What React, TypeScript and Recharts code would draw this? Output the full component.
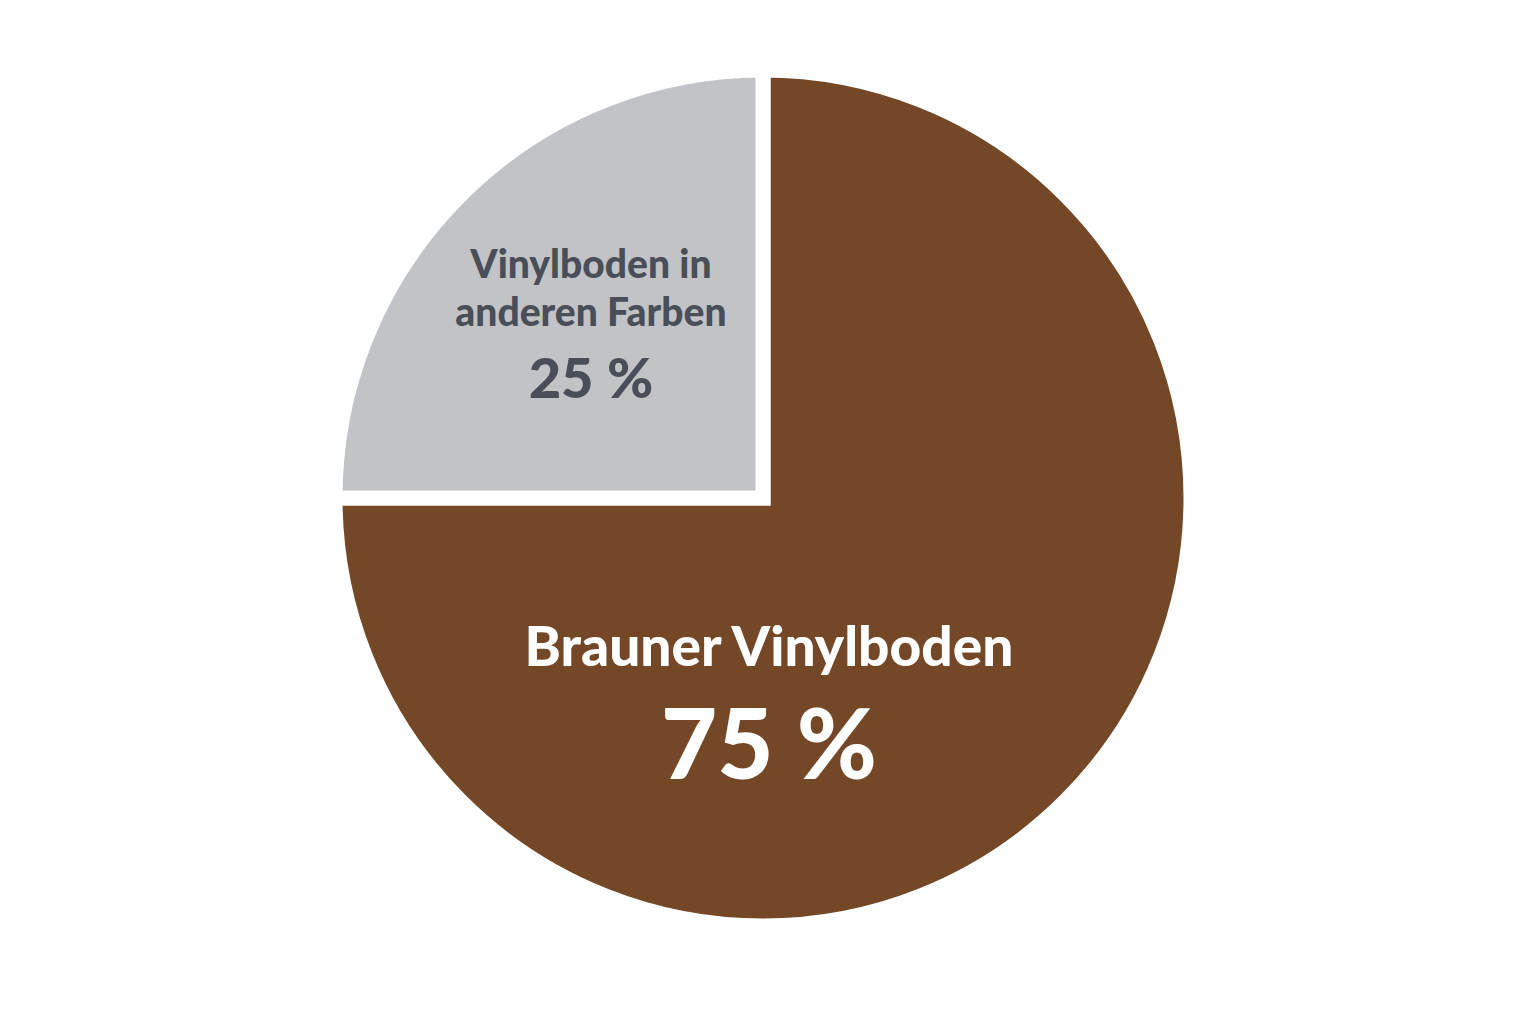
import React from "react";
import { PieChart, Pie, Cell } from "recharts";

const categories = ["Brauner Vinylboden", "Vinylboden in anderen Farben"];
const values = [75, 25];
const labelLines = [["Brauner Vinylboden"], ["Vinylboden in", "anderen Farben"]];
const percentLabels = ["75 %", "25 %"];
const colors = ["#744827", "#c1c3c6"];
const textColors = ["#ffffff", "#4a4e58"];

const data = categories.map((name, i) => ({ name, value: values[i] }));

const FONT = "Lato, 'Open Sans', sans-serif";

const renderLabel = (props: any) => {
  const { cx, cy, outerRadius, index } = props;
  const R = outerRadius;
  if (index === 0) {
    const x = cx + R * 0.014;
    const y = cy + R * 0.392;
    return (
      <g>
        <text x={x} y={y} textAnchor="middle" fill={textColors[0]} fontFamily={FONT} fontWeight={900} fontSize={55}>
          {labelLines[0][0]}
        </text>
        <text x={x} y={y + 113} textAnchor="middle" fill={textColors[0]} fontFamily={FONT} fontWeight={900} fontSize={97}>
          {percentLabels[0]}
        </text>
      </g>
    );
  }
  const x = cx - R * 0.402;
  const y = cy - R * 0.402;
  return (
    <g>
      <text x={x} y={y - 48} textAnchor="middle" fill={textColors[1]} fontFamily={FONT} fontWeight={900} fontSize={39}>
        {labelLines[1][0]}
      </text>
      <text x={x} y={y} textAnchor="middle" fill={textColors[1]} fontFamily={FONT} fontWeight={900} fontSize={39}>
        {labelLines[1][1]}
      </text>
      <text x={x} y={y + 72} textAnchor="middle" fill={textColors[1]} fontFamily={FONT} fontWeight={900} fontSize={56}>
        {percentLabels[1]}
      </text>
    </g>
  );
};

export default function App() {
  return (
    <div style={{ width: 1520, height: 1000, background: "#ffffff" }}>
      <PieChart width={1520} height={1000}>
        <Pie
          data={data}
          dataKey="value"
          nameKey="name"
          cx={750}
          cy={485}
          outerRadius={428}
          startAngle={180}
          endAngle={540}
          stroke="#ffffff"
          strokeWidth={15}
          label={renderLabel}
          labelLine={false}
          isAnimationActive={false}
        >
          {data.map((d, i) => (
            <Cell key={d.name} fill={colors[i]} />
          ))}
        </Pie>
      </PieChart>
    </div>
  );
}
